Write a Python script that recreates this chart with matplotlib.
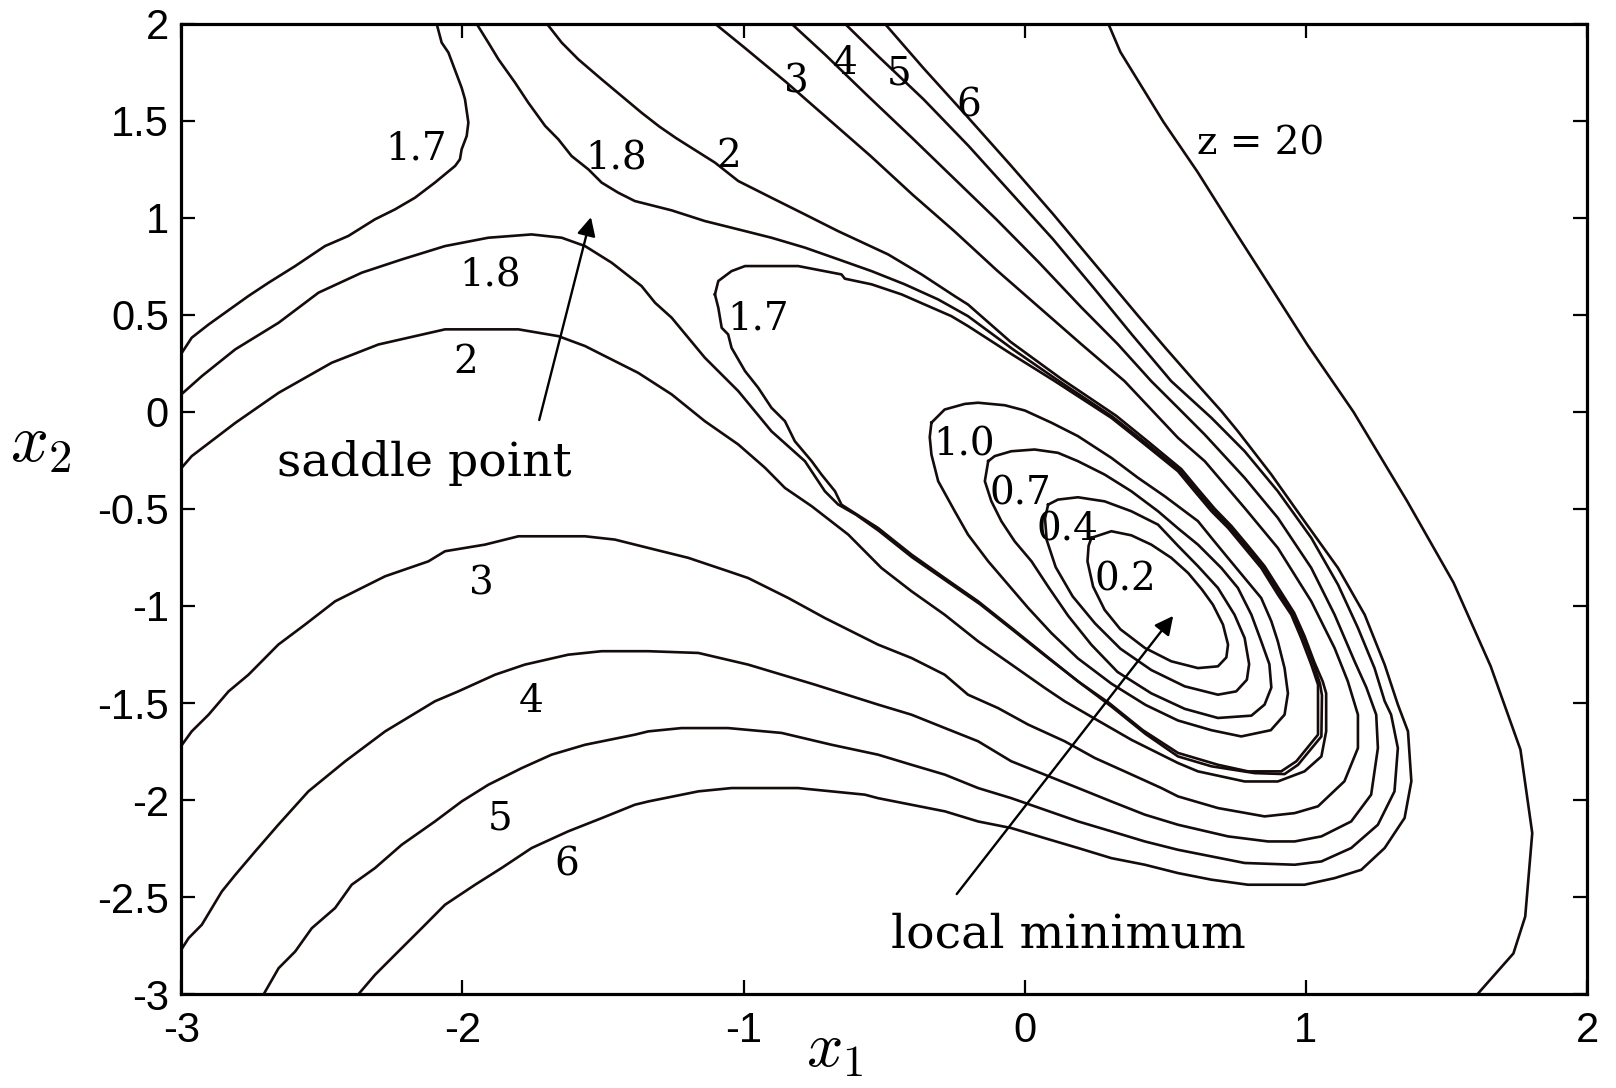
import matplotlib
matplotlib.use("Agg")
import matplotlib.pyplot as plt
import numpy as np

# ---- contour lines of z(x1, x2), each as a list of (x1, x2) vertices ----
z20 = [(0.297, 2.0), (0.34, 1.854), (0.493, 1.494), (0.614, 1.237), (0.755, 0.913),
       (0.862, 0.671), (1.005, 0.346), (1.169, 0.0), (1.36, -0.46), (1.525, -0.88),
       (1.657, -1.31), (1.763, -1.74), (1.805, -2.17), (1.78, -2.6), (1.738, -2.79),
       (1.61, -3.0)]

z6 = [(-0.498, 2.0), (-0.36, 1.77), (-0.21, 1.53), (-0.05, 1.27), (0.10, 1.02),
      (0.25, 0.76), (0.40, 0.50), (0.50, 0.33), (0.604, 0.158), (0.699, 0.004),
      (0.758, -0.100), (0.877, -0.323), (0.995, -0.564), (1.114, -0.804),
      (1.209, -1.045), (1.280, -1.302), (1.327, -1.508), (1.363, -1.646),
      (1.375, -1.903), (1.351, -2.092), (1.280, -2.247), (1.197, -2.359),
      (1.102, -2.402), (0.995, -2.436), (0.794, -2.436), (0.664, -2.410),
      (0.545, -2.376), (0.427, -2.333), (0.308, -2.299), (0.190, -2.247),
      (0.071, -2.196), (-0.048, -2.144), (-0.166, -2.110), (-0.284, -2.058),
      (-0.403, -2.024), (-0.522, -1.990), (-0.569, -1.972), (-0.806, -1.938),
      (-1.043, -1.938), (-1.161, -1.955), (-1.339, -2.007), (-1.387, -2.024),
      (-1.505, -2.093), (-1.624, -2.161), (-1.754, -2.247), (-1.861, -2.350),
      (-1.955, -2.436), (-2.062, -2.539), (-2.145, -2.660), (-2.240, -2.797),
      (-2.311, -2.900), (-2.37, -3.0)]

z5 = [(-0.64, 2.0), (-0.52, 1.83), (-0.36, 1.61), (-0.20, 1.37), (-0.05, 1.13),
      (0.10, 0.89), (0.25, 0.63), (0.38, 0.40), (0.521, 0.158), (0.664, -0.031),
      (0.782, -0.203), (0.900, -0.409), (1.019, -0.649), (1.114, -0.890),
      (1.185, -1.113), (1.244, -1.320), (1.280, -1.49), (1.303, -1.560),
      (1.327, -1.732), (1.315, -1.955), (1.256, -2.127), (1.161, -2.247),
      (1.055, -2.316), (0.960, -2.333), (0.782, -2.324), (0.545, -2.256),
      (0.427, -2.213), (0.308, -2.161), (0.190, -2.110), (0.071, -2.050),
      (-0.048, -1.990), (-0.166, -1.938), (-0.284, -1.869), (-0.403, -1.818),
      (-0.522, -1.766), (-0.687, -1.715), (-0.865, -1.654), (-1.055, -1.629),
      (-1.221, -1.629), (-1.339, -1.646), (-1.387, -1.663), (-1.564, -1.715),
      (-1.683, -1.766), (-1.789, -1.835), (-1.908, -1.921), (-2.003, -2.007),
      (-2.098, -2.110), (-2.216, -2.230), (-2.311, -2.350), (-2.394, -2.436),
      (-2.453, -2.556), (-2.536, -2.660), (-2.595, -2.780), (-2.654, -2.866),
      (-2.707, -3.0)]

z4 = [(-0.83, 2.0), (-0.71, 1.84), (-0.56, 1.63), (-0.40, 1.41), (-0.25, 1.20),
      (-0.10, 0.99), (0.05, 0.77), (0.20, 0.54), (0.33, 0.35), (0.45, 0.158),
      (0.545, 0.021), (0.640, -0.117), (0.782, -0.340), (0.900, -0.546),
      (1.019, -0.804), (1.102, -1.045), (1.173, -1.285), (1.215, -1.42),
      (1.250, -1.56), (1.256, -1.732), (1.232, -1.972), (1.161, -2.110),
      (1.055, -2.187), (0.960, -2.213), (0.865, -2.213), (0.723, -2.187),
      (0.545, -2.127), (0.427, -2.075), (0.308, -2.007), (0.190, -1.938),
      (0.071, -1.869), (-0.048, -1.800), (-0.166, -1.697), (-0.284, -1.629),
      (-0.403, -1.560), (-0.522, -1.508), (-0.747, -1.405), (-0.984, -1.302),
      (-1.161, -1.242), (-1.339, -1.233), (-1.505, -1.233), (-1.624, -1.251),
      (-1.778, -1.302), (-1.884, -1.354), (-2.015, -1.440), (-2.098, -1.491),
      (-2.275, -1.646), (-2.417, -1.800), (-2.548, -1.955), (-2.655, -2.127),
      (-2.737, -2.264), (-2.808, -2.385), (-2.856, -2.471), (-2.927, -2.642),
      (-2.974, -2.711), (-3.0, -2.77)]

z3 = [(-1.102, 2.0), (-1.0, 1.88), (-0.85, 1.70), (-0.70, 1.51), (-0.55, 1.32),
      (-0.40, 1.12), (-0.25, 0.93), (-0.10, 0.73), (0.05, 0.54), (0.20, 0.35),
      (0.355, 0.158), (0.545, -0.134), (0.640, -0.254), (0.782, -0.495),
      (0.900, -0.701), (1.019, -0.976), (1.102, -1.217), (1.149, -1.388),
      (1.185, -1.560), (1.185, -1.732), (1.137, -1.903), (1.043, -2.032),
      (0.960, -2.067), (0.853, -2.084), (0.687, -2.041), (0.545, -1.981),
      (0.486, -1.938), (0.355, -1.852), (0.249, -1.783), (0.142, -1.697),
      (0.012, -1.611), (-0.095, -1.526), (-0.202, -1.457), (-0.285, -1.354),
      (-0.403, -1.268), (-0.522, -1.199), (-0.711, -1.062), (-0.841, -0.959),
      (-0.984, -0.856), (-1.055, -0.821), (-1.197, -0.752), (-1.339, -0.701),
      (-1.458, -0.658), (-1.564, -0.641), (-1.801, -0.641), (-1.920, -0.684),
      (-2.062, -0.718), (-2.121, -0.770), (-2.275, -0.847), (-2.358, -0.907),
      (-2.453, -0.976), (-2.560, -1.096), (-2.655, -1.199), (-2.761, -1.354),
      (-2.832, -1.440), (-2.903, -1.560), (-2.963, -1.646), (-3.0, -1.72)]

z2 = [(-1.70, 2.0), (-1.647, 1.902), (-1.588, 1.816), (-1.505, 1.713),
      (-1.434, 1.627), (-1.363, 1.541), (-1.30, 1.47), (-1.24, 1.41),
      (-1.102, 1.284), (-1.019, 1.189), (-0.901, 1.103), (-0.782, 1.017),
      (-0.664, 0.931), (-0.486, 0.811), (-0.367, 0.708), (-0.249, 0.596),
      (-0.202, 0.553), (-0.05, 0.36), (0.13, 0.17), (0.325, -0.02),
      (0.44, -0.155), (0.557, -0.295), (0.616, -0.398), (0.676, -0.50),
      (0.735, -0.588), (0.794, -0.69), (0.853, -0.795), (0.912, -0.93),
      (0.958, -1.035), (0.995, -1.155), (1.03, -1.29), (1.06, -1.39),
      (1.072, -1.45), (1.072, -1.646), (1.055, -1.775), (0.995, -1.852),
      (0.900, -1.904), (0.782, -1.904), (0.616, -1.852), (0.545, -1.809),
      (0.38, -1.69), (0.26, -1.59), (0.142, -1.491), (0.071, -1.422),
      (-0.047, -1.302), (-0.166, -1.182), (-0.285, -1.045), (-0.403, -0.924),
      (-0.51, -0.804), (-0.628, -0.632), (-0.758, -0.486), (-0.853, -0.392),
      (-0.924, -0.288), (-1.019, -0.168), (-1.138, -0.048), (-1.256, 0.090),
      (-1.375, 0.201), (-1.493, 0.287), (-1.564, 0.339), (-1.659, 0.390),
      (-1.801, 0.425), (-2.062, 0.425), (-2.299, 0.347), (-2.465, 0.253),
      (-2.654, 0.098), (-2.808, -0.057), (-2.963, -0.228), (-3.0, -0.29)]

z1_8 = [(-1.95, 2.0), (-1.908, 1.902), (-1.872, 1.816), (-1.813, 1.696),
        (-1.766, 1.593), (-1.706, 1.473), (-1.659, 1.404), (-1.612, 1.318),
        (-1.552, 1.249), (-1.505, 1.181), (-1.446, 1.129), (-1.387, 1.086),
        (-1.256, 1.038), (-1.138, 0.983), (-1.019, 0.940), (-0.901, 0.897),
        (-0.782, 0.846), (-0.664, 0.786), (-0.545, 0.725), (-0.427, 0.657),
        (-0.308, 0.579), (-0.202, 0.493), (-0.04, 0.32), (0.115, 0.165),
        (0.312, -0.025), (0.432, -0.162), (0.550, -0.300), (0.610, -0.403),
        (0.670, -0.506), (0.729, -0.592), (0.788, -0.695), (0.847, -0.798),
        (0.906, -0.935), (0.954, -1.04), (0.990, -1.16), (1.027, -1.30),
        (1.050, -1.40), (1.057, -1.46), (1.055, -1.672), (0.972, -1.818),
        (0.924, -1.866), (0.818, -1.861), (0.664, -1.826), (0.545, -1.775),
        (0.43, -1.66), (0.31, -1.52), (0.2, -1.40), (0.08, -1.265),
        (-0.04, -1.127), (-0.16, -0.99), (-0.28, -0.87), (-0.40, -0.75),
        (-0.52, -0.612), (-0.60, -0.53), (-0.664, -0.477), (-0.711, -0.409),
        (-0.782, -0.254), (-0.901, -0.100), (-1.019, 0.107), (-1.138, 0.279),
        (-1.256, 0.485), (-1.315, 0.562), (-1.363, 0.648), (-1.469, 0.768),
        (-1.564, 0.854), (-1.647, 0.897), (-1.754, 0.914), (-1.908, 0.897),
        (-2.062, 0.854), (-2.216, 0.785), (-2.358, 0.717), (-2.512, 0.614),
        (-2.654, 0.459), (-2.808, 0.322), (-2.927, 0.184), (-3.0, 0.09)]

z1_7_corner = [(-2.092, 2.0), (-2.074, 1.902), (-2.050, 1.851), (-2.003, 1.670),
               (-1.991, 1.610), (-1.979, 1.490), (-1.985, 1.421), (-2.003, 1.352),
               (-2.009, 1.301), (-2.026, 1.267), (-2.098, 1.181), (-2.169, 1.103),
               (-2.240, 1.043), (-2.311, 0.992), (-2.406, 0.906), (-2.489, 0.854),
               (-2.595, 0.751), (-2.690, 0.665), (-2.761, 0.597), (-2.820, 0.536),
               (-2.903, 0.450), (-2.963, 0.382), (-3.0, 0.30)]

z1_7_loop = [(-1.102, 0.605), (-1.090, 0.674), (-1.043, 0.725), (-0.995, 0.751),
             (-0.806, 0.751), (-0.652, 0.708), (-0.640, 0.686), (-0.545, 0.657),
             (-0.438, 0.605), (-0.356, 0.553), (-0.261, 0.493), (-0.202, 0.442),
             (-0.05, 0.30), (0.107, 0.158), (0.308, -0.031), (0.427, -0.168),
             (0.545, -0.306), (0.604, -0.409), (0.664, -0.512), (0.723, -0.598),
             (0.782, -0.701), (0.841, -0.804), (0.900, -0.941), (0.948, -1.045),
             (0.983, -1.165), (1.019, -1.302), (1.043, -1.405), (1.043, -1.663),
             (0.966, -1.800), (0.912, -1.852), (0.794, -1.852), (0.687, -1.818),
             (0.545, -1.757), (0.42, -1.64), (0.30, -1.50), (0.189, -1.388),
             (0.071, -1.251), (-0.047, -1.113), (-0.166, -0.976), (-0.285, -0.856),
             (-0.403, -0.735), (-0.522, -0.598), (-0.652, -0.478), (-0.675, -0.409),
             (-0.723, -0.323), (-0.758, -0.254), (-0.818, -0.151), (-0.853, -0.048),
             (-0.901, 0.021), (-0.948, 0.124), (-0.995, 0.210), (-1.043, 0.330),
             (-1.055, 0.399), (-1.078, 0.433), (-1.090, 0.536), (-1.102, 0.605)]

z1_0 = [(-0.332, -0.056), (-0.285, 0.012), (-0.213, 0.041), (-0.166, 0.047),
        (-0.071, 0.034), (0.0, 0.007), (0.095, -0.056), (0.189, -0.125),
        (0.308, -0.237), (0.403, -0.340), (0.498, -0.435), (0.616, -0.563),
        (0.664, -0.649), (0.723, -0.753), (0.782, -0.856), (0.841, -0.959),
        (0.877, -1.079), (0.900, -1.182), (0.924, -1.320), (0.936, -1.45),
        (0.924, -1.560), (0.875, -1.640), (0.770, -1.672), (0.664, -1.64),
        (0.545, -1.59), (0.43, -1.51), (0.308, -1.40), (0.189, -1.27),
        (0.095, -1.140), (0.012, -1.010), (-0.059, -0.890), (-0.130, -0.770),
        (-0.202, -0.632), (-0.249, -0.512), (-0.308, -0.357), (-0.332, -0.220),
        (-0.338, -0.13), (-0.332, -0.056)]

z0_7 = [(-0.130, -0.254), (-0.107, -0.228), (-0.048, -0.203), (0.035, -0.194),
        (0.118, -0.211), (0.189, -0.254), (0.284, -0.323), (0.379, -0.409),
        (0.474, -0.512), (0.545, -0.60), (0.616, -0.684), (0.699, -0.804),
        (0.758, -0.907), (0.806, -1.045), (0.841, -1.182), (0.870, -1.30),
        (0.877, -1.42), (0.853, -1.508), (0.806, -1.565), (0.687, -1.577),
        (0.569, -1.53), (0.45, -1.45), (0.33, -1.34), (0.237, -1.2),
        (0.154, -1.05), (0.083, -0.90), (0.024, -0.77), (-0.036, -0.667),
        (-0.083, -0.564), (-0.119, -0.460), (-0.142, -0.357), (-0.130, -0.254)]

z0_4 = [(0.083, -0.478), (0.118, -0.452), (0.189, -0.440), (0.284, -0.461),
        (0.379, -0.512), (0.474, -0.581), (0.545, -0.690), (0.616, -0.795),
        (0.687, -0.907), (0.746, -1.045), (0.782, -1.165), (0.798, -1.30),
        (0.790, -1.38), (0.752, -1.44), (0.687, -1.457), (0.569, -1.414),
        (0.450, -1.33), (0.34, -1.22), (0.25, -1.09), (0.17, -0.95),
        (0.11, -0.80), (0.078, -0.66), (0.072, -0.55), (0.083, -0.478)]

z0_2 = [(0.237, -0.649), (0.308, -0.615), (0.379, -0.636), (0.450, -0.684),
        (0.521, -0.752), (0.581, -0.830), (0.630, -0.915), (0.669, -0.993),
        (0.705, -1.096), (0.723, -1.199), (0.717, -1.265), (0.687, -1.311),
        (0.616, -1.320), (0.521, -1.285), (0.427, -1.216), (0.340, -1.12),
        (0.284, -1.02), (0.243, -0.90), (0.223, -0.77), (0.227, -0.69),
        (0.237, -0.649)]

contour_lines = [z20, z6, z5, z4, z3, z2, z1_8, z1_7_corner, z1_7_loop,
                 z1_0, z0_7, z0_4, z0_2]

# ---- level labels: (text, x1, x2) ----
level_labels = [("1.7", -2.166, 1.353), ("1.8", -1.452, 1.300), ("2", -1.052, 1.316),
                ("3", -0.814, 1.699), ("4", -0.638, 1.794), ("5", -0.447, 1.741),
                ("6", -0.198, 1.576), ("z = 20", 0.839, 1.380),
                ("1.8", -1.902, 0.701), ("2", -1.990, 0.255), ("1.7", -0.949, 0.478),
                ("1.0", -0.216, -0.170), ("0.7", -0.015, -0.425),
                ("0.4", 0.150, -0.610), ("0.2", 0.359, -0.865),
                ("3", -1.932, -0.886), ("4", -1.756, -1.492),
                ("5", -1.866, -2.097), ("6", -1.628, -2.336)]

# ---- annotations: (text, text x1, text x2, arrow tail, arrow head) ----
annotations = [("saddle point", -2.135, -0.265, (-1.727, -0.042), (-1.543, 1.003)),
               ("local minimum", 0.154, -2.696, (-0.242, -2.484), (0.528, -1.051))]

x_ticks = [-3, -2, -1, 0, 1, 2]
y_ticks = [-3, -2.5, -2, -1.5, -1, -0.5, 0, 0.5, 1, 1.5, 2]
x_tick_labels = ["-3", "-2", "-1", "0", "1", "2"]
y_tick_labels = ["-3", "-2.5", "-2", "-1.5", "-1", "-0.5", "0", "0.5", "1", "1.5", "2"]

line_color = "#160b0b"
serif = ["DejaVu Serif"]

plt.rcParams["mathtext.fontset"] = "cm"

fig = plt.figure(figsize=(16.16, 10.88), dpi=100)
ax = fig.add_axes([0.1122, 0.0862, 0.8699, 0.8921])

for pts in contour_lines:
    arr = np.asarray(pts)
    ax.plot(arr[:, 0], arr[:, 1], color=line_color, lw=1.9, solid_joinstyle="round")

for text, lx, ly in level_labels:
    ax.text(lx, ly, text, ha="center", va="center", fontsize=28,
            family=serif, color="black")

for text, tx, ty, tail, head in annotations:
    ax.text(tx, ty, text, ha="center", va="center", fontsize=34,
            family=serif, color="black")
    ax.annotate("", xy=head, xytext=tail,
                arrowprops=dict(arrowstyle="-|>", color="black", lw=1.7,
                                mutation_scale=28, shrinkA=0, shrinkB=0))

ax.set_xlim(-3, 2)
ax.set_ylim(-3, 2)
ax.set_xticks(x_ticks)
ax.set_xticklabels(x_tick_labels)
ax.set_yticks(y_ticks)
ax.set_yticklabels(y_tick_labels)
ax.tick_params(direction="in", length=10, width=1.6, top=True, right=True,
               labelsize=30, color="black")
ax.tick_params(axis="x", pad=12)
ax.tick_params(axis="y", pad=9)
for lab in ax.get_xticklabels() + ax.get_yticklabels():
    lab.set_family("Liberation Sans")
for sp in ax.spines.values():
    sp.set_linewidth(2.3)

ax.text(0.465, -0.0745, r"$x_1$", transform=ax.transAxes, ha="center",
        va="baseline", fontsize=46)
ax.text(-0.1, 0.568, r"$x_2$", transform=ax.transAxes, ha="center", va="center",
        fontsize=48)

fig.savefig("out.png", dpi=100, facecolor="white")
